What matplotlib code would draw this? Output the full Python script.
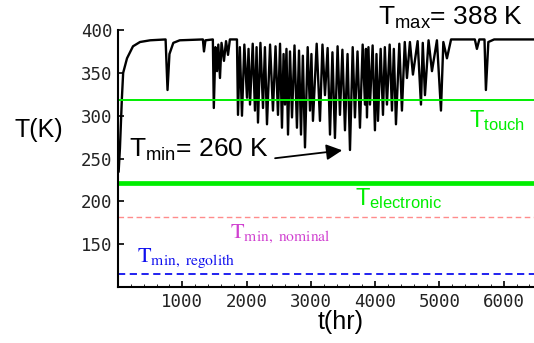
import matplotlib
matplotlib.use('Agg')
import matplotlib.pyplot as plt
from matplotlib.ticker import MultipleLocator

plt.rcParams['mathtext.fontset'] = 'custom'
plt.rcParams['mathtext.rm'] = 'Liberation Sans'

# temperature history (hours, kelvin)
t_hr = [10, 30, 60, 80, 140, 233, 342, 500, 740, 770, 800, 860, 960,
        1320, 1337, 1360, 1475, 1490, 1515, 1540, 1560, 1586, 1610, 1648,
        1680, 1711, 1740, 1850, 1866, 1895, 1928, 1965, 2006, 2030, 2053,
        2095, 2130, 2155, 2177, 2215, 2255, 2285, 2317, 2365, 2410, 2450,
        2488, 2520, 2550, 2575, 2597, 2620, 2644, 2675, 2706, 2745, 2783,
        2815, 2846, 2875, 2908, 2950, 2986, 3008, 3032, 3090, 3141, 3180,
        3219, 3260, 3297, 3335, 3374, 3415, 3452, 3490, 3530, 3570, 3608,
        3650, 3685, 3725, 3763, 3805, 3841, 3856, 3872, 3895, 3919, 3960,
        3996, 4020, 4043, 4085, 4121, 4150, 4183, 4225, 4261, 4290, 4323,
        4375, 4416, 4460, 4494, 4540, 4587, 4660, 4712, 4740, 4774, 4830,
        4883, 4960, 5023, 5060, 5116, 5180, 5550, 5582, 5620, 5700, 5722,
        5760, 5850, 6500]
T_K = [235, 262, 320, 350, 367, 381, 386, 388, 389, 330, 372, 385, 388,
       389, 375, 388, 389, 309, 380, 352, 383, 344, 385, 364,
       387, 371, 389, 389, 301, 380, 300, 383, 321, 378, 313,
       384, 306, 380, 292, 385, 309, 380, 290, 383, 306, 381,
       301, 384, 286, 372, 313, 378, 278, 375, 298, 382, 286,
       376, 278, 370, 263, 380, 306, 372, 294, 384, 294, 383,
       324, 379, 278, 374, 274, 381, 301, 377, 283, 372, 260,
       380, 298, 375, 286, 383, 313, 378, 298, 380, 313, 382,
       283, 372, 294, 378, 301, 380, 313, 383, 306, 378, 290,
       384, 306, 386, 344, 386, 348, 387, 313, 385, 324, 388,
       352, 388, 306, 386, 367, 389, 389, 378, 389, 389, 330,
       386, 389, 389]

T_touch = 318
T_electronic = 222
T_min_nominal = 182
T_min_regolith = 115

fig = plt.figure(figsize=(5.34, 3.43), dpi=100)
ax = fig.add_axes([0.221, 0.163, 0.779, 0.7495])

ax.plot(t_hr, T_K, color='black', lw=1.7)
ax.axhline(T_touch, color='#00ee00', lw=1.4)
ax.axhline(T_electronic, color='#00ee00', lw=3.4)
ax.axhline(T_min_nominal, color='#ff8c8c', lw=1.0, dashes=(4, 2.5))
ax.axhline(T_min_regolith, color='#1010ee', lw=1.3, dashes=(4, 2.5))

ax.set_xlim(0, 6470)
ax.set_ylim(100, 400)
ax.set_xticks([1000, 2000, 3000, 4000, 5000, 6000])
ax.set_yticks([150, 200, 250, 300, 350, 400])
ax.xaxis.set_minor_locator(MultipleLocator(200))
for s in ['top', 'right']:
    ax.spines[s].set_visible(False)
for s in ['left', 'bottom']:
    ax.spines[s].set_linewidth(1.5)
ax.tick_params(direction='in', length=4, width=1.2, labelsize=12.5,
               labelcolor='#222222', pad=4)
ax.tick_params(axis='x', which='minor', direction='in', length=2, width=0.6)
for lab in ax.get_xticklabels() + ax.get_yticklabels():
    lab.set_fontfamily('DejaVu Sans Mono')

sans = 'Liberation Sans'
fig.text(39 / 534, 1 - 130 / 343, 'T(K)', family=sans, fontsize=18,
         ha='center', va='center')
fig.text(341 / 534, 1 - 322 / 343, 't(hr)', family=sans, fontsize=18,
         ha='center', va='center')
fig.text(378 / 534, 1 - 25 / 343, r'$\rm T_{max}$= 388 K', family=sans,
         fontsize=19, ha='left', va='baseline')
fig.text(129 / 534, 1 - 157 / 343, r'$\rm T_{min}$= 260 K', family=sans,
         fontsize=19, ha='left', va='baseline')
fig.text(469 / 534, 1 - 127 / 343, r'$\rm T_{touch}$', family=sans,
         fontsize=17, color='#00ee00', ha='left', va='baseline')
fig.text(355 / 534, 1 - 205 / 343, r'$\rm T_{electronic}$', family=sans,
         fontsize=17, color='#00ee00', ha='left', va='baseline')
fig.text(230 / 534, 1 - 238 / 343, r'$\rm T_{min,\ nominal}$',
         math_fontfamily='stix', fontsize=16, color='#d040d0',
         ha='left', va='baseline')
fig.text(137 / 534, 1 - 262 / 343, r'$\rm T_{min,\ regolith}$',
         math_fontfamily='stix', fontsize=16, color='#1010ee',
         ha='left', va='baseline')

ax.annotate('', xy=(3530, 260), xytext=(2400, 250),
            arrowprops=dict(arrowstyle='-|>', color='black', lw=1.3,
                            mutation_scale=24))

fig.savefig('out.png', dpi=100)
